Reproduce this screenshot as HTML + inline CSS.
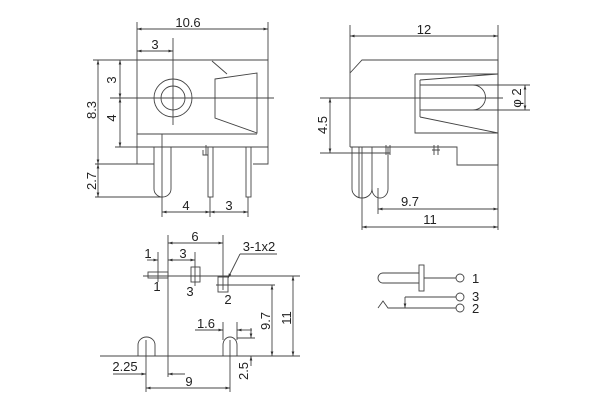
<!DOCTYPE html>
<html><head><meta charset="utf-8"><style>
html,body{margin:0;padding:0;background:#fff;}
svg{display:block;}
text{font-family:"Liberation Sans",sans-serif;font-size:13px;fill:#222;}
</style></head><body>
<svg width="600" height="400" viewBox="0 0 600 400" xmlns="http://www.w3.org/2000/svg">
<defs>
<marker id="a" viewBox="0 0 10 10" refX="10" refY="5" markerWidth="7" markerHeight="5" orient="auto-start-reverse"><path d="M0,2 L10,5 L0,8 z" fill="#333"/></marker>
</defs>
<g stroke="#444" stroke-width="0.9" fill="none">
<line x1="137" y1="22" x2="137" y2="60"/><line x1="268" y1="22" x2="268" y2="60"/>
<line x1="137" y1="29" x2="268" y2="29" marker-start="url(#a)" marker-end="url(#a)"/>
<line x1="137" y1="51" x2="173" y2="51" marker-start="url(#a)" marker-end="url(#a)"/>
<line x1="173" y1="38" x2="173" y2="125"/>
<path d="M137,60 H268 V164 H253"/>
<path d="M137,60 V164 H154"/>
<line x1="137" y1="134" x2="257" y2="134"/>
<line x1="93" y1="60" x2="137" y2="60"/>
<line x1="115" y1="147" x2="268" y2="147"/>
<line x1="95" y1="164" x2="137" y2="164"/>
<line x1="95" y1="197" x2="162" y2="197"/>
<circle cx="173" cy="98" r="19"/><circle cx="173" cy="98" r="12"/>
<line x1="110" y1="98" x2="274" y2="98"/>
<path d="M215,79 L257,73 V133 L215,118 Z"/>
<line x1="212" y1="61" x2="227" y2="74"/>
<line x1="98" y1="60" x2="98" y2="164" marker-start="url(#a)" marker-end="url(#a)"/>
<line x1="98" y1="164" x2="98" y2="197" marker-start="url(#a)" marker-end="url(#a)"/>
<line x1="120" y1="60" x2="120" y2="98" marker-start="url(#a)" marker-end="url(#a)"/>
<line x1="120" y1="98" x2="120" y2="147" marker-start="url(#a)" marker-end="url(#a)"/>
<path d="M154,147 V189 A8.5,8 0 0 0 171,189 V147"/>
<line x1="162" y1="134" x2="162" y2="217"/>
<rect x="208" y="147" width="5" height="50"/><rect x="246" y="147" width="5" height="50"/>
<path d="M203,150 V155 H208 M206,145 V155"/>
<line x1="210" y1="197" x2="210" y2="217"/><line x1="248" y1="197" x2="248" y2="217"/>
<line x1="162" y1="212" x2="210" y2="212" marker-start="url(#a)" marker-end="url(#a)"/>
<line x1="210" y1="212" x2="248" y2="212" marker-start="url(#a)" marker-end="url(#a)"/>
<line x1="350" y1="25" x2="350" y2="73"/><line x1="498" y1="25" x2="498" y2="230"/>
<line x1="350" y1="36" x2="498" y2="36" marker-start="url(#a)" marker-end="url(#a)"/>
<path d="M350,147 V73 L362,60 H498 V165 H457 V147 H350"/>
<path d="M415,74 H498 M415,74 V133 H498"/>
<path d="M420,80 L498,74 M420,117 L498,133 M420,80 V117"/>
<path d="M420,85 H473 A12.5,12.5 0 0 1 473,110 H420"/>
<line x1="320" y1="98" x2="503" y2="98"/>
<line x1="473" y1="85" x2="530" y2="85"/><line x1="473" y1="110" x2="530" y2="110"/>
<line x1="525" y1="85" x2="525" y2="110" marker-start="url(#a)" marker-end="url(#a)"/>
<line x1="320" y1="153" x2="390" y2="153"/>
<line x1="330" y1="98" x2="330" y2="153" marker-start="url(#a)" marker-end="url(#a)"/>
<path d="M352,147 V189 A10,9 0 0 0 372,189 A8,9 0 0 0 388,189 V147"/>
<line x1="359" y1="147" x2="359" y2="198"/><line x1="362" y1="147" x2="362" y2="230"/><line x1="372" y1="147" x2="372" y2="189"/>
<line x1="378" y1="188" x2="378" y2="214"/>
<path d="M386,145 V155 M390,145 V155 M434,145 V155 M438,145 V155 M432,150 H440"/>
<line x1="378" y1="209" x2="498" y2="209" marker-start="url(#a)" marker-end="url(#a)"/>
<line x1="362" y1="227" x2="498" y2="227" marker-start="url(#a)" marker-end="url(#a)"/>
<line x1="168" y1="235" x2="168" y2="377"/>
<line x1="223" y1="235" x2="223" y2="290"/>
<line x1="168" y1="243" x2="223" y2="243" marker-start="url(#a)" marker-end="url(#a)"/>
<line x1="158" y1="252" x2="158" y2="282"/><line x1="195" y1="252" x2="195" y2="286"/>
<line x1="147" y1="260" x2="158" y2="260" marker-end="url(#a)"/>
<line x1="168" y1="260" x2="195" y2="260" marker-start="url(#a)" marker-end="url(#a)"/>
<rect x="148" y="272" width="20" height="6"/>
<rect x="191" y="267" width="9" height="15"/>
<rect x="218" y="277" width="10" height="15"/>
<line x1="143" y1="276" x2="300" y2="276"/>
<line x1="216" y1="285" x2="275" y2="285"/>
<line x1="240" y1="254" x2="277" y2="254"/>
<line x1="240" y1="254" x2="228" y2="278" marker-end="url(#a)"/>
<line x1="272" y1="285" x2="272" y2="356" marker-start="url(#a)" marker-end="url(#a)"/>
<line x1="293" y1="276" x2="293" y2="356" marker-start="url(#a)" marker-end="url(#a)"/>
<line x1="100" y1="356" x2="300" y2="356"/>
<path d="M138,356 V345 A8.5,8 0 0 1 155,345 V356"/>
<path d="M223,356 V345 A7,8 0 0 1 237,345 V356"/>
<line x1="146" y1="340" x2="146" y2="392"/><line x1="230" y1="340" x2="230" y2="392"/>
<line x1="223" y1="322" x2="223" y2="340"/><line x1="237" y1="322" x2="237" y2="340"/>
<line x1="195" y1="330" x2="223" y2="330" marker-end="url(#a)"/>
<line x1="237" y1="330" x2="252" y2="330" marker-start="url(#a)"/>
<line x1="237" y1="338" x2="255" y2="338"/>
<line x1="251" y1="328" x2="251" y2="338" marker-end="url(#a)"/>
<line x1="251" y1="366" x2="251" y2="356" marker-end="url(#a)"/>
<line x1="113" y1="374" x2="146" y2="374" marker-end="url(#a)"/>
<line x1="168" y1="374" x2="185" y2="374" marker-start="url(#a)"/>
<line x1="146" y1="388" x2="230" y2="388" marker-start="url(#a)" marker-end="url(#a)"/>
<path d="M419,273 H383 A5,5 0 0 0 383,283 H419"/>
<rect x="419" y="265" width="5" height="26"/>
<line x1="424" y1="278" x2="456" y2="278"/>
<circle cx="460" cy="278" r="4"/>
<line x1="405" y1="297" x2="456" y2="297"/>
<circle cx="460" cy="297" r="4"/>
<line x1="405" y1="297" x2="405" y2="308" marker-end="url(#a)"/>
<path d="M378,308 L383,301 L388,308 H456"/>
<circle cx="460" cy="308" r="4"/>
</g>
<text x="188" y="27" text-anchor="middle">10.6</text>
<text x="155" y="49" text-anchor="middle">3</text>
<text transform="translate(116,80) rotate(-90)" text-anchor="middle">3</text>
<text transform="translate(116,118) rotate(-90)" text-anchor="middle">4</text>
<text transform="translate(96,110) rotate(-90)" text-anchor="middle">8.3</text>
<text transform="translate(96,181) rotate(-90)" text-anchor="middle">2.7</text>
<text x="186" y="210" text-anchor="middle">4</text>
<text x="229" y="210" text-anchor="middle">3</text>
<text x="424" y="34" text-anchor="middle">12</text>
<text transform="translate(521,98) rotate(-90)" text-anchor="middle">φ 2</text>
<text transform="translate(327,125) rotate(-90)" text-anchor="middle">4.5</text>
<text x="410" y="206" text-anchor="middle">9.7</text>
<text x="430" y="224" text-anchor="middle">11</text>
<text x="195" y="241" text-anchor="middle">6</text>
<text x="148" y="258" text-anchor="middle">1</text>
<text x="183" y="258" text-anchor="middle">3</text>
<text x="259" y="251" text-anchor="middle">3-1x2</text>
<text x="157" y="291" text-anchor="middle">1</text>
<text x="190" y="296" text-anchor="middle">3</text>
<text x="228" y="304" text-anchor="middle">2</text>
<text transform="translate(270,321) rotate(-90)" text-anchor="middle">9.7</text>
<text transform="translate(291,318) rotate(-90)" text-anchor="middle">11</text>
<text x="206" y="328" text-anchor="middle">1.6</text>
<text transform="translate(248,371) rotate(-90)" text-anchor="middle">2.5</text>
<text x="125" y="371" text-anchor="middle">2.25</text>
<text x="189" y="386" text-anchor="middle">9</text>
<text x="472" y="283">1</text>
<text x="472" y="301">3</text>
<text x="472" y="313">2</text>
</svg>
</body></html>
